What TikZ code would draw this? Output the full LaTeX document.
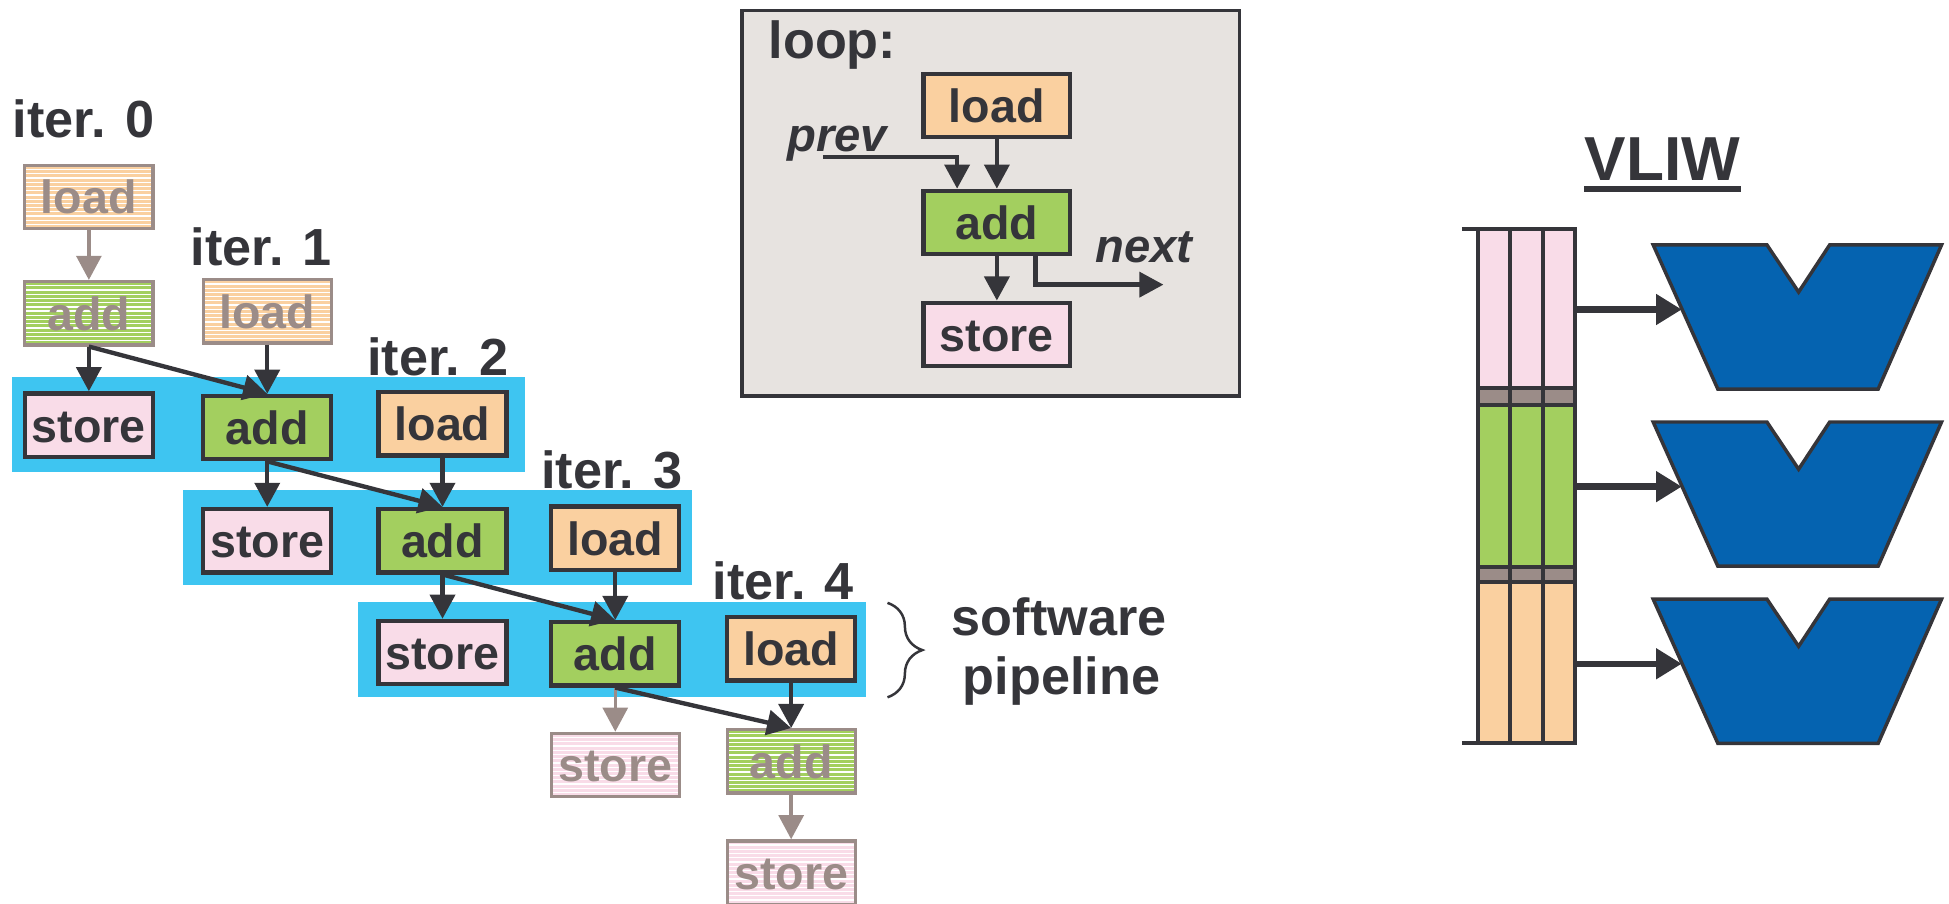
\documentclass[tikz,border=0pt]{standalone}
\usepackage{fontspec}
\setmainfont{Liberation Sans}
\usetikzlibrary{arrows.meta,decorations.pathreplacing}

\definecolor{ink}{HTML}{35353A}
\definecolor{loadc}{HTML}{FAD0A0}
\definecolor{addc}{HTML}{A3CF5F}
\definecolor{storec}{HTML}{F9DCE8}
\definecolor{bandc}{HTML}{3EC5F1}
\definecolor{loopbg}{HTML}{E7E3E0}
\definecolor{fadec}{HTML}{9B8C88}
\definecolor{aluc}{HTML}{0563B0}

\tikzset{
  op/.style={draw=ink, line width=1.7pt, minimum width=51.5pt, minimum height=25.5pt,
    inner sep=0pt, text=ink, font=\fontsize{18.75}{20}\selectfont\bfseries,
    text height=13.6pt, text depth=0pt},
  wideop/.style={op, minimum width=59pt},
  ghost/.style={op, draw=fadec, text=fadec, line width=1.3pt,
    path picture={\foreach \k in {1,...,15}
      \draw[white, line width=0.5pt]
        ([yshift=-\k*1.7pt]path picture bounding box.north west) --
        ([yshift=-\k*1.7pt]path picture bounding box.north east);}},
  lbl/.style={text=ink, inner sep=0pt, anchor=base west,
    font=\fontsize{21}{24}\selectfont\bfseries},
  slbl/.style={text=ink, inner sep=0pt, anchor=base west,
    font=\fontsize{19}{22}\selectfont\bfseries\itshape},
  flow/.style={draw=ink, line width=1.75pt, -{Triangle[width=10pt,length=9.7pt]}},
  gflow/.style={flow, draw=fadec, line width=1.4pt},
  vflow/.style={draw=ink, line width=2.6pt, -{Triangle[width=11.8pt,length=10.3pt]}},
  band/.style={fill=bandc},
  cell/.style={draw=ink, line width=1.6pt},
  alu/.style={draw=ink, line width=1.4pt, fill=aluc, line join=miter},
}

\begin{document}
\begin{tikzpicture}[x=0.5pt, y=-0.5pt]
\useasboundingbox (0,0) rectangle (1568,727);

% ---------------- software pipeline (left) ----------------
\fill[band] (10,303) rectangle (422,380);
\fill[band] (147,394) rectangle (557,471);
\fill[band] (288,484) rectangle (697,561);

\node[lbl] (it0) at (10,111) {iter. 0};
\node[lbl] (it1) at (153,214) {iter. 1};
\node[lbl] (it2) at (295,302) {iter. 2};
\node[lbl] (it3) at (435,393) {iter. 3};
\node[lbl] (it4) at (573,482) {iter. 4};

\node[ghost, fill=loadc] (l0) at (71.5,158.5) {load};
\node[ghost, fill=addc]  (a0) at (71.5,252) {add};
\node[ghost, fill=loadc] (l1) at (215,250.5) {load};

\node[op, fill=storec] (s1) at (71.5,342) {store};
\node[op, fill=addc]   (a1) at (215,344) {add};
\node[op, fill=loadc]  (l2) at (356,341) {load};

\node[op, fill=storec] (s2) at (215,435) {store};
\node[op, fill=addc]   (a2) at (356,435) {add};
\node[op, fill=loadc]  (l3) at (495,433) {load};

\node[op, fill=storec] (s3) at (356,525) {store};
\node[op, fill=addc]   (a3) at (495,526) {add};
\node[op, fill=loadc]  (l4) at (636.5,522) {load};

\node[ghost, fill=storec] (s4) at (495,615.5) {store};
\node[ghost, fill=addc]   (a4) at (636.5,612.5) {add};
\node[ghost, fill=storec] (s5) at (636.5,702) {store};

\draw[gflow] (l0) -- (a0);
\draw[flow] (a0.south) -- (s1.north);
\draw[flow] (a0.south) -- (a1.north);
\draw[flow] (l1.south) -- (a1.north);

\draw[flow] (a1.south) -- (s2.north);
\draw[flow] (a1.south) -- (a2.north);
\draw[flow] (l2.south) -- (a2.north);

\draw[flow] (a2.south) -- (s3.north);
\draw[flow] (a2.south) -- (a3.north);
\draw[flow] (l3.south) -- (a3.north);

\draw[gflow] (a3.south) -- (s4.north);
\draw[flow] (a3.south) -- (a4.north);
\draw[flow] (l4.south) -- (a4.north);
\draw[gflow] (a4.south) -- (s5.north);

% brace and caption
\coordinate (bt) at (714,485);
\coordinate (bb) at (714,561);
\draw[ink, line width=1pt, decorate,
  decoration={brace, amplitude=14pt, aspect=0.5}] (bt) -- (bb);
\node[lbl, anchor=base] (sw1) at (852,511) {software};
\node[lbl, anchor=base] (sw2) at (854,559) {pipeline};

% ---------------- loop body (middle) ----------------
\draw[draw=ink, fill=loopbg, line width=1.4pt] (597,8.5) rectangle (997,318.5);
\node[lbl] (looplbl) at (618,47) {loop:};

\node[wideop, fill=loadc]  (ll) at (802,85) {load};
\node[wideop, fill=addc]   (la) at (802,179) {add};
\node[wideop, fill=storec] (ls) at (802,269) {store};

\draw[flow] (ll) -- (la);
\draw[flow] (la) -- (ls);

\node[slbl] (prev) at (633,122) {prev};
\coordinate (pv) at (662,126.5);
\draw[flow] (pv) -| ([xshift=-16pt]la.north);

\node[slbl] (next) at (881,211) {next};
\coordinate (nx) at (936,229);
\draw[flow] ([xshift=15.5pt]la.south) |- (nx);

% ---------------- VLIW (right) ----------------
\node[text=ink, inner sep=0pt, anchor=base,
  font=\fontsize{25}{28}\selectfont\bfseries] (vliw) at (1337.5,145) {VLIW};
\draw[ink, line width=2.5pt] ([yshift=-3.5pt]vliw.base west) -- ([yshift=-3.5pt]vliw.base east);

\foreach \ya/\yb/\c in {184/312/storec, 312/326/fadec, 326/456/addc, 456/468/fadec, 468/598/loadc}
  \foreach \xa/\xb in {1189/1215, 1215/1241, 1241/1267}
    \draw[cell, fill=\c] (\xa,\ya) rectangle (\xb,\yb);
\draw[cell] (1176,184) -- (1189,184);
\draw[cell] (1176,598) -- (1189,598);

\foreach \d [count=\i] in {0,142.5,285} {
  \draw[alu] (1330,197+\d) -- (1421.5,197+\d) -- (1447,235+\d) -- (1472,197+\d)
    -- (1562,197+\d) -- (1511,313+\d) -- (1382,313+\d) -- cycle;
  \coordinate (out\i) at (1267,249+\d);
  \coordinate (in\i) at (1353,249+\d);
  \draw[vflow] (out\i) -- (in\i);
}
\end{tikzpicture}
\end{document}
